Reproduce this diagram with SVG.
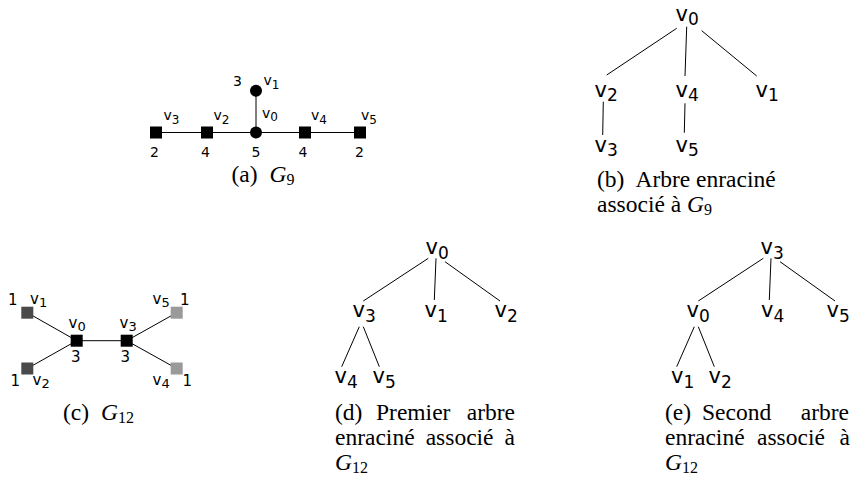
<svg xmlns="http://www.w3.org/2000/svg" width="851" height="485" viewBox="0 0 851 485">
<style>
.e{stroke:#000;stroke-width:1;fill:none}
.tl{font-family:"DejaVu Sans",sans-serif;font-size:21px;fill:#000}
.ts{font-size:17px}
.sl{font-family:"DejaVu Sans",sans-serif;font-size:14px;fill:#000}
.ss{font-size:12px}
.sc{font-family:"DejaVu Sans",sans-serif;font-size:15px;fill:#000}
.sc2{font-size:13px}
.cap{font-family:"Liberation Serif",serif;font-size:23.5px;fill:#000}
.it{font-style:italic}
.cs{font-size:16px}
.blk{fill:#000}
.dk{fill:#4a4a4a}
.lt{fill:#9a9a9a}
</style>

<!-- connectors -->
<g id="connectors">
  <!-- (a) -->
  <line class="e" x1="156" y1="132.5" x2="360" y2="132.5"/>
  <line class="e" x1="256" y1="90.7" x2="256" y2="132.5"/>
  <!-- (b) -->
  <line class="e" x1="676.7" y1="28.3" x2="606.7" y2="75"/>
  <line class="e" x1="686.7" y1="26.7" x2="685" y2="76"/>
  <line class="e" x1="701.7" y1="30.7" x2="756.7" y2="76"/>
  <line class="e" x1="603.3" y1="101.7" x2="602.7" y2="135"/>
  <line class="e" x1="685" y1="103.3" x2="684.3" y2="132.7"/>
  <!-- (c) -->
  <line class="e" x1="27.3" y1="312.7" x2="76.7" y2="340.7"/>
  <line class="e" x1="27.3" y1="368.5" x2="76.7" y2="340.7"/>
  <line class="e" x1="76.7" y1="340.7" x2="126.7" y2="340.7"/>
  <line class="e" x1="126.7" y1="340.7" x2="176.7" y2="312.7"/>
  <line class="e" x1="126.7" y1="340.7" x2="176.7" y2="368.5"/>
  <!-- (d) -->
  <line class="e" x1="428.3" y1="258.3" x2="363.3" y2="301"/>
  <line class="e" x1="436" y1="258.3" x2="434.3" y2="300"/>
  <line class="e" x1="445" y1="261.7" x2="500" y2="301"/>
  <line class="e" x1="359.3" y1="326.7" x2="341.7" y2="366.7"/>
  <line class="e" x1="363.3" y1="326.7" x2="379.3" y2="366.7"/>
  <!-- (e) -->
  <line class="e" x1="763.3" y1="258.3" x2="698.3" y2="301"/>
  <line class="e" x1="771" y1="258.3" x2="769.3" y2="300"/>
  <line class="e" x1="780" y1="261.7" x2="835" y2="301"/>
  <line class="e" x1="694.3" y1="326.7" x2="676.7" y2="366.7"/>
  <line class="e" x1="698.3" y1="326.7" x2="714.3" y2="366.7"/>
</g>

<!-- (a) G9 -->
<g id="a-v3"><rect class="blk" x="150" y="126.5" width="12" height="12"/><text class="sl" x="163.5" y="120">v<tspan class="ss" dy="3.5">3</tspan></text><text class="sl" x="150" y="157.3">2</text></g>
<g id="a-v2"><rect class="blk" x="201" y="126.5" width="12" height="12"/><text class="sl" x="213.5" y="120">v<tspan class="ss" dy="3.5">2</tspan></text><text class="sl" x="201" y="157.3">4</text></g>
<g id="a-v0"><circle class="blk" cx="256" cy="132.5" r="6"/><text class="sl" x="262" y="117.7">v<tspan class="ss" dy="3.5">0</tspan></text><text class="sl" x="251.5" y="157.3">5</text></g>
<g id="a-v1"><circle class="blk" cx="256" cy="90.7" r="6"/><text class="sl" x="263.5" y="85">v<tspan class="ss" dy="3.5">1</tspan></text><text class="sl" x="233" y="86">3</text></g>
<g id="a-v4"><rect class="blk" x="299" y="126.5" width="12" height="12"/><text class="sl" x="311" y="120">v<tspan class="ss" dy="3.5">4</tspan></text><text class="sl" x="298.5" y="157.3">4</text></g>
<g id="a-v5"><rect class="blk" x="354" y="126.5" width="12" height="12"/><text class="sl" x="361" y="120">v<tspan class="ss" dy="3.5">5</tspan></text><text class="sl" x="355" y="157.3">2</text></g>
<g id="cap-a"><text class="cap" x="231.5" y="182">(a)<tspan class="it" dx="12">G</tspan><tspan class="cs" dy="3">9</tspan></text></g>

<!-- (b) tree -->
<g id="b-v0"><text class="tl" x="675.5" y="20.7">v<tspan class="ts" dy="4.5">0</tspan></text></g>
<g id="b-v2"><text class="tl" x="594.5" y="96.7">v<tspan class="ts" dy="4.5">2</tspan></text></g>
<g id="b-v4"><text class="tl" x="675.5" y="96.7">v<tspan class="ts" dy="4.5">4</tspan></text></g>
<g id="b-v1"><text class="tl" x="755.5" y="96.7">v<tspan class="ts" dy="4.5">1</tspan></text></g>
<g id="b-v3"><text class="tl" x="594.5" y="151.7">v<tspan class="ts" dy="4.5">3</tspan></text></g>
<g id="b-v5"><text class="tl" x="675.5" y="151.7">v<tspan class="ts" dy="4.5">5</tspan></text></g>
<g id="cap-b">
  <text class="cap" x="597" y="187">(b)<tspan dx="11">Arbre enraciné</tspan></text>
  <text class="cap" x="597" y="212">associé à <tspan class="it">G</tspan><tspan class="cs" dy="3">9</tspan></text>
</g>

<!-- (c) G12 -->
<g id="c-v1"><rect class="dk" x="21.3" y="306.7" width="12" height="12"/><text class="sc" x="8" y="305">1</text><text class="sc" x="30" y="304.3">v<tspan class="sc2" dy="3">1</tspan></text></g>
<g id="c-v2"><rect class="dk" x="21.3" y="362.5" width="12" height="12"/><text class="sc" x="10.5" y="386">1</text><text class="sc" x="32.5" y="385">v<tspan class="sc2" dy="3">2</tspan></text></g>
<g id="c-v0"><rect class="blk" x="70.7" y="334.7" width="12" height="12"/><text class="sc" x="68.5" y="328.3">v<tspan class="sc2" dy="3">0</tspan></text><text class="sc" x="71" y="362">3</text></g>
<g id="c-v3"><rect class="blk" x="120.7" y="334.7" width="12" height="12"/><text class="sc" x="119.5" y="328.3">v<tspan class="sc2" dy="3">3</tspan></text><text class="sc" x="120.5" y="362">3</text></g>
<g id="c-v5"><rect class="lt" x="170.7" y="306.7" width="12" height="12"/><text class="sc" x="152.5" y="304.3">v<tspan class="sc2" dy="3">5</tspan></text><text class="sc" x="180" y="305">1</text></g>
<g id="c-v4"><rect class="lt" x="170.7" y="362.5" width="12" height="12"/><text class="sc" x="152.5" y="385">v<tspan class="sc2" dy="3">4</tspan></text><text class="sc" x="182.5" y="386">1</text></g>
<g id="cap-c"><text class="cap" x="63" y="420">(c)<tspan class="it" dx="12">G</tspan><tspan class="cs" dy="3">12</tspan></text></g>

<!-- (d) tree -->
<g id="d-v0"><text class="tl" x="425.5" y="254">v<tspan class="ts" dy="4.5">0</tspan></text></g>
<g id="d-v3"><text class="tl" x="352.5" y="317">v<tspan class="ts" dy="4.5">3</tspan></text></g>
<g id="d-v1"><text class="tl" x="424.5" y="317">v<tspan class="ts" dy="4.5">1</tspan></text></g>
<g id="d-v2"><text class="tl" x="494.5" y="317">v<tspan class="ts" dy="4.5">2</tspan></text></g>
<g id="d-v4"><text class="tl" x="334.5" y="383">v<tspan class="ts" dy="4.5">4</tspan></text></g>
<g id="d-v5"><text class="tl" x="372.5" y="383">v<tspan class="ts" dy="4.5">5</tspan></text></g>
<g id="cap-d">
  <text class="cap" x="335" y="420">(d)</text>
  <text class="cap" x="376" y="420">Premier</text>
  <text class="cap" x="515" y="420" text-anchor="end">arbre</text>
  <text class="cap" x="335" y="445">enraciné</text>
  <text class="cap" x="425.7" y="445">associé</text>
  <text class="cap" x="515" y="445" text-anchor="end">à</text>
  <text class="cap" x="335" y="470"><tspan class="it">G</tspan><tspan class="cs" dy="3">12</tspan></text>
</g>

<!-- (e) tree -->
<g id="e-v3"><text class="tl" x="760.5" y="254">v<tspan class="ts" dy="4.5">3</tspan></text></g>
<g id="e-v0"><text class="tl" x="686.5" y="317">v<tspan class="ts" dy="4.5">0</tspan></text></g>
<g id="e-v4"><text class="tl" x="761" y="317">v<tspan class="ts" dy="4.5">4</tspan></text></g>
<g id="e-v5"><text class="tl" x="826.5" y="317">v<tspan class="ts" dy="4.5">5</tspan></text></g>
<g id="e-v1"><text class="tl" x="671" y="383">v<tspan class="ts" dy="4.5">1</tspan></text></g>
<g id="e-v2"><text class="tl" x="708.5" y="383">v<tspan class="ts" dy="4.5">2</tspan></text></g>
<g id="cap-e">
  <text class="cap" x="665" y="420">(e)</text>
  <text class="cap" x="702" y="420">Second</text>
  <text class="cap" x="849" y="420" text-anchor="end">arbre</text>
  <text class="cap" x="665" y="445">enraciné</text>
  <text class="cap" x="757" y="445">associé</text>
  <text class="cap" x="850" y="445" text-anchor="end">à</text>
  <text class="cap" x="665" y="470"><tspan class="it">G</tspan><tspan class="cs" dy="3">12</tspan></text>
</g>
</svg>
